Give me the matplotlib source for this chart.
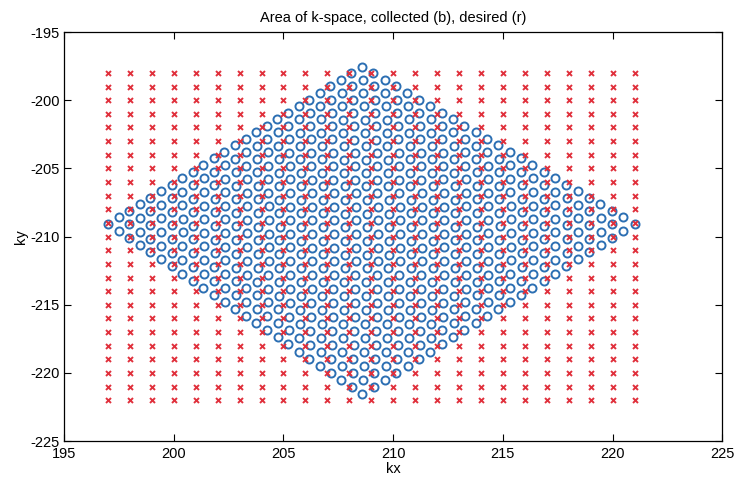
import numpy as np
import matplotlib.pyplot as plt

plt.rcParams['font.family'] = ['Liberation Sans', 'DejaVu Sans']
plt.rcParams['axes.unicode_minus'] = False

# desired (rectangular) k-space grid, red x
kx_desired = np.arange(197, 222)
ky_desired = np.arange(-222, -197)

# collected samples, blue o: 25 x 25 lattice, corners
n_samp = 25
corner_left = (197.0, -209.07)
corner_top = (208.58, -197.55)
corner_right = (221.0, -209.07)
corner_bottom = (208.6, -221.55)

s, t = np.meshgrid(np.linspace(0, 1, n_samp), np.linspace(0, 1, n_samp))
L, T, R, B = [np.array(c) for c in (corner_left, corner_top, corner_right, corner_bottom)]
kx_coll = (1-s)*(1-t)*L[0] + s*(1-t)*T[0] + s*t*R[0] + (1-s)*t*B[0]
ky_coll = (1-s)*(1-t)*L[1] + s*(1-t)*T[1] + s*t*R[1] + (1-s)*t*B[1]

KX, KY = np.meshgrid(kx_desired, ky_desired)

fig = plt.figure(figsize=(7.37, 4.78), dpi=100)
ax = fig.add_axes([0.087, 0.077, 0.893, 0.856])

ax.plot(kx_coll.ravel(), ky_coll.ravel(), 'o', color='#2c6fb3', mfc='none',
        ms=5.8, mew=1.4, linestyle='none')
ax.plot(KX.ravel(), KY.ravel(), 'x', color='#e0303c', ms=3.6, mew=1.4,
        linestyle='none')

ax.set_xlim(195, 225)
ax.set_ylim(-225, -195)
ax.set_xticks(np.arange(195, 226, 5))
ax.set_yticks(np.arange(-225, -194, 5))
ax.tick_params(direction='in', top=True, right=True, length=5, labelsize=10.5)
ax.tick_params(axis='x', pad=4.5)
ax.tick_params(axis='y', pad=3)
for sp in ax.spines.values():
    sp.set_linewidth(0.9)

ax.set_title('Area of k-space, collected (b), desired (r)', fontsize=10.5, pad=7)
ax.set_xlabel('kx', fontsize=10.5, labelpad=0.5)
ax.set_ylabel('ky', fontsize=10.5, labelpad=2)

fig.savefig('out.png', dpi=100)
